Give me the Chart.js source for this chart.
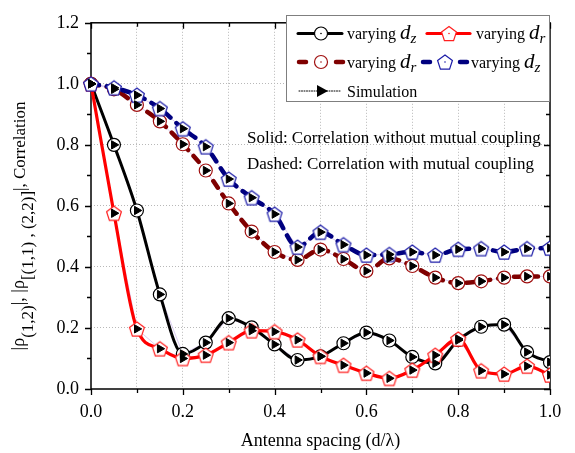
<!DOCTYPE html>
<html><head><meta charset="utf-8">
<script src="https://cdn.jsdelivr.net/npm/chart.js@4"></script>
<style>html,body{margin:0;padding:0;background:#fff}</style>
</head><body>
<canvas id="c" width="575" height="453"></canvas>
<script>
// ---- data ----
const spacing = [0, 0.05, 0.1, 0.15, 0.2, 0.25, 0.3, 0.35, 0.4, 0.45, 0.5, 0.55, 0.6, 0.65, 0.7, 0.75, 0.8, 0.85, 0.9, 0.95, 1.0];
const dzNoCoupling = [1.0, 0.80, 0.585, 0.31, 0.115, 0.152, 0.232, 0.202, 0.146, 0.095, 0.107, 0.15, 0.185, 0.159, 0.105, 0.084, 0.16, 0.204, 0.211, 0.121, 0.088];
const drNoCoupling = [1.0, 0.576, 0.197, 0.132, 0.10, 0.111, 0.152, 0.191, 0.188, 0.161, 0.107, 0.078, 0.052, 0.035, 0.062, 0.111, 0.164, 0.06, 0.049, 0.075, 0.046];
const drCoupling = [1.0, 0.982, 0.931, 0.877, 0.802, 0.716, 0.608, 0.516, 0.449, 0.423, 0.457, 0.426, 0.387, 0.428, 0.403, 0.365, 0.347, 0.353, 0.365, 0.369, 0.369];
const dzCoupling = [1.0, 0.987, 0.963, 0.919, 0.853, 0.794, 0.688, 0.627, 0.573, 0.465, 0.514, 0.473, 0.439, 0.441, 0.449, 0.439, 0.458, 0.46, 0.449, 0.46, 0.462];
const xTickLabels = ['0.0', '0.2', '0.4', '0.6', '0.8', '1.0'];
const yTickLabels = ['0.0', '0.2', '0.4', '0.6', '0.8', '1.0', '1.2'];
const xTitle = 'Antenna spacing (d/λ)';
const noteSolid = 'Solid: Correlation without mutual coupling';
const noteDashed = 'Dashed: Correlation with mutual coupling';

const SERIF = '"Liberation Serif", "Times New Roman", serif';
const pts = arr => arr.map((v, i) => ({x: spacing[i], y: v}));
const CLIP = {left: 10, top: 10, right: 0, bottom: 10};

function pentagonPath(ctx, cx, cy, r) {
  ctx.beginPath();
  for (let k = 0; k < 5; k++) {
    const a = -Math.PI / 2 + k * 2 * Math.PI / 5;
    const px = cx + r * Math.cos(a), py = cy + r * Math.sin(a);
    k ? ctx.lineTo(px, py) : ctx.moveTo(px, py);
  }
  ctx.closePath();
}
function pentagonImg(color, r) {
  const c = document.createElement('canvas');
  const s = Math.ceil(2 * r + 4);
  c.width = s; c.height = s;
  const g = c.getContext('2d');
  pentagonPath(g, s / 2, s / 2 + 0.8, r);
  g.fillStyle = '#fff'; g.fill();
  g.lineWidth = 1.2; g.strokeStyle = color; g.stroke();
  return c;
}
const redPent = pentagonImg('#ff2020', 7.8);
const bluePent = pentagonImg('#1c1ca8', 7.8);

// simulation: thin connecting line underneath, triangles on top
function simLine(arr) {
  return {data: pts(arr), order: 10, showLine: true, borderColor: 'rgba(205,185,235,0.9)', borderWidth: 0.8,
          pointRadius: 0, tension: 0, clip: CLIP};
}
function simPoints(arr) {
  return {data: pts(arr), order: 0, showLine: false, clip: CLIP,
          pointStyle: 'triangle', rotation: 90, pointRadius: 4.8, pointBackgroundColor: '#000',
          pointBorderColor: '#000', pointBorderWidth: 1};
}

const datasets = [
  simPoints(dzNoCoupling), simPoints(drNoCoupling), simPoints(drCoupling), simPoints(dzCoupling),
  {data: pts(dzCoupling), order: 1, clip: CLIP, borderColor: '#00007f', borderWidth: 4.5, borderDash: [8, 8], borderCapStyle: 'round',
   pointStyle: bluePent, cubicInterpolationMode: 'monotone'},
  {data: pts(drCoupling), order: 2, clip: CLIP, borderColor: '#7f0000', borderWidth: 4.5, borderDash: [8, 8], borderCapStyle: 'round',
   pointStyle: 'circle', pointRadius: 6.5, pointBackgroundColor: '#fff', pointBorderColor: '#a01010', pointBorderWidth: 1.2,
   cubicInterpolationMode: 'monotone'},
  {data: pts(drNoCoupling), order: 3, clip: CLIP, borderColor: '#ff0000', borderWidth: 3.2, pointStyle: redPent,
   cubicInterpolationMode: 'monotone'},
  {data: pts(dzNoCoupling), order: 4, clip: CLIP, borderColor: '#000', borderWidth: 3, pointStyle: 'circle', pointRadius: 6.5,
   pointBackgroundColor: '#fff', pointBorderColor: '#000', pointBorderWidth: 1.2, cubicInterpolationMode: 'monotone'},
  simLine(dzNoCoupling), simLine(drNoCoupling), simLine(drCoupling), simLine(dzCoupling)
];

const isMajor = v => Math.round(v * 10) % 2 === 0;

const decor = {
  id: 'decor',
  beforeDatasetsDraw(chart) {
    const {ctx, chartArea: a, scales: {x, y}} = chart;
    ctx.save();
    ctx.strokeStyle = '#000'; ctx.lineWidth = 1.5;
    ctx.strokeRect(a.left, a.top, a.right - a.left, a.bottom - a.top);
    ctx.lineWidth = 1.3;
    ctx.beginPath();
    for (let i = 0; i <= 10; i++) {
      const v = i / 10, px = Math.round(x.getPixelForValue(v)) + 0.5, L = i % 2 ? 4 : 6;
      ctx.moveTo(px, a.bottom); ctx.lineTo(px, a.bottom + L);
      ctx.moveTo(px, a.top); ctx.lineTo(px, a.top + L);
    }
    for (let i = 0; i <= 12; i++) {
      const v = i / 10, py = Math.round(y.getPixelForValue(v)) + 0.5, L = i % 2 ? 4 : 6;
      ctx.moveTo(a.left, py); ctx.lineTo(a.left - L, py);
      ctx.moveTo(a.right, py); ctx.lineTo(a.right - L, py);
    }
    ctx.stroke();
    ctx.restore();
  },
  afterDraw(chart) {
    const {ctx, chartArea: a} = chart;
    ctx.save();
    // x title
    ctx.fillStyle = '#000';
    ctx.font = '18px ' + SERIF;
    ctx.textAlign = 'center'; ctx.textBaseline = 'alphabetic';
    ctx.fillText(xTitle, (a.left + a.right) / 2, 446);
    // y title (rotated, with subscripts)
    const segs = [
      {t: '|ρ', f: '18px ' + SERIF, dy: 0},
      {t: '(1,2)', f: '17px ' + SERIF, dy: 9},
      {t: '|, |ρ', f: '18px ' + SERIF, dy: 0},
      {t: '[(1,1) , (2,2)]', f: '17px ' + SERIF, dy: 9},
      {t: '|, Correlation', f: '17px ' + SERIF, dy: 1}
    ];
    let total = 0;
    segs.forEach(s => { ctx.font = s.f; s.w = ctx.measureText(s.t).width; total += s.w; });
    ctx.translate(24, 226);
    ctx.rotate(-Math.PI / 2);
    ctx.textAlign = 'left';
    let cx = -total / 2;
    segs.forEach(s => { ctx.font = s.f; ctx.fillText(s.t, cx, s.dy); cx += s.w; });
    ctx.setTransform(1, 0, 0, 1, 0, 0);
    // notes
    ctx.font = '17px ' + SERIF;
    ctx.textAlign = 'left';
    ctx.fillText(noteSolid, 247, 143);
    ctx.fillText(noteDashed, 247, 169);
    // legend box
    ctx.fillStyle = '#fff';
    ctx.fillRect(286, 15, 263, 86);
    ctx.strokeStyle = '#7f7f7f'; ctx.lineWidth = 1;
    ctx.strokeRect(286.5, 15.5, 263, 86);
    const label = (x0, yb, sub) => {
      ctx.fillStyle = '#000';
      ctx.font = '16px ' + SERIF;
      ctx.fillText('varying ', x0, yb);
      let w = ctx.measureText('varying ').width;
      ctx.font = 'italic 21px ' + SERIF;
      ctx.fillText('d', x0 + w, yb);
      w += ctx.measureText('d').width;
      ctx.font = 'italic 15px ' + SERIF;
      ctx.fillText(sub, x0 + w, yb + 4);
    };
    const circ = (cx0, cy0, col) => {
      ctx.beginPath(); ctx.arc(cx0, cy0, 6.5, 0, Math.PI * 2);
      ctx.fillStyle = '#fff'; ctx.fill(); ctx.lineWidth = 1.2; ctx.strokeStyle = col; ctx.stroke();
      ctx.beginPath(); ctx.arc(cx0, cy0, 0.8, 0, Math.PI * 2); ctx.fillStyle = col; ctx.fill();
    };
    const pent = (cx0, cy0, col) => {
      pentagonPath(ctx, cx0, cy0 + 0.8, 7.8);
      ctx.fillStyle = '#fff'; ctx.fill(); ctx.lineWidth = 1.2; ctx.strokeStyle = col; ctx.stroke();
      ctx.beginPath(); ctx.arc(cx0, cy0, 0.8, 0, Math.PI * 2); ctx.fillStyle = col; ctx.fill();
    };
    const seg = (x1, x2, yy, col, w) => {
      ctx.beginPath(); ctx.moveTo(x1, yy); ctx.lineTo(x2, yy);
      ctx.strokeStyle = col; ctx.lineWidth = w; ctx.lineCap = 'round'; ctx.stroke(); ctx.lineCap = 'butt';
    };
    // row 1
    seg(298, 342, 33.5, '#000', 3); circ(321, 33.5, '#000'); label(347, 39, 'z');
    seg(427, 470, 33.5, '#ff0000', 3.2); pent(449, 33.5, '#ff2020'); label(476, 39, 'r');
    // row 2
    seg(299, 306, 62, '#7f0000', 4.5); seg(336, 343, 62, '#7f0000', 4.5); circ(321, 62, '#a01010'); label(347, 68, 'r');
    seg(423, 430, 62, '#00007f', 4.5); seg(460, 467, 62, '#00007f', 4.5); pent(445, 62, '#1c1ca8'); label(471, 68, 'z');
    // row 3
    ctx.setLineDash([1, 1.5]);
    seg(299, 341, 91, '#000', 1);
    ctx.setLineDash([]);
    ctx.beginPath(); ctx.moveTo(328, 91); ctx.lineTo(317, 85); ctx.lineTo(317, 97); ctx.closePath();
    ctx.fillStyle = '#000'; ctx.fill();
    ctx.font = '16px ' + SERIF; ctx.fillText('Simulation', 347, 97);
    ctx.restore();
  }
};

const gridColor = (lo, hi) => c => (c.tick && c.tick.value > lo && c.tick.value < hi) ? '#b8b8b8' : 'rgba(0,0,0,0)';

new Chart(document.getElementById('c'), {
  type: 'line',
  data: {datasets},
  options: {
    responsive: false, animation: false, devicePixelRatio: 1, events: [],
    layout: {padding: {left: 0, right: 25, top: 16, bottom: 0}},
    plugins: {legend: {display: false}, tooltip: {enabled: false}},
    scales: {
      x: {
        type: 'linear', min: 0, max: 1,
        afterFit: s => { s.height = 64; },
        afterBuildTicks: s => { s.ticks = spacing.filter((v, i) => i % 2 === 0).map(v => ({value: v})); },
        ticks: {
          autoSkip: false, maxRotation: 0, padding: 12, color: '#000',
          font: {family: SERIF, size: 18},
          callback: (v) => isMajor(v) ? xTickLabels[Math.round(v * 5)] : ''
        },
        grid: {drawTicks: false, color: gridColor(0.001, 0.999), lineWidth: 1, borderDash: [1, 2]},
        border: {display: false, dash: [1, 2]}
      },
      y: {
        type: 'linear', min: 0, max: 1.2,
        afterFit: s => { s.width = 91; },
        afterBuildTicks: s => { s.ticks = yTickLabels.map(t => ({value: parseFloat(t)})); },
        ticks: {
          autoSkip: false, padding: 12, color: '#000',
          font: {family: SERIF, size: 18},
          callback: (v) => yTickLabels[Math.round(v * 5)] || ''
        },
        grid: {drawTicks: false, color: gridColor(0.001, 1.199), lineWidth: 1, borderDash: [1, 2]},
        border: {display: false, dash: [1, 2]}
      }
    }
  },
  plugins: [decor]
});
</script>
</body></html>
